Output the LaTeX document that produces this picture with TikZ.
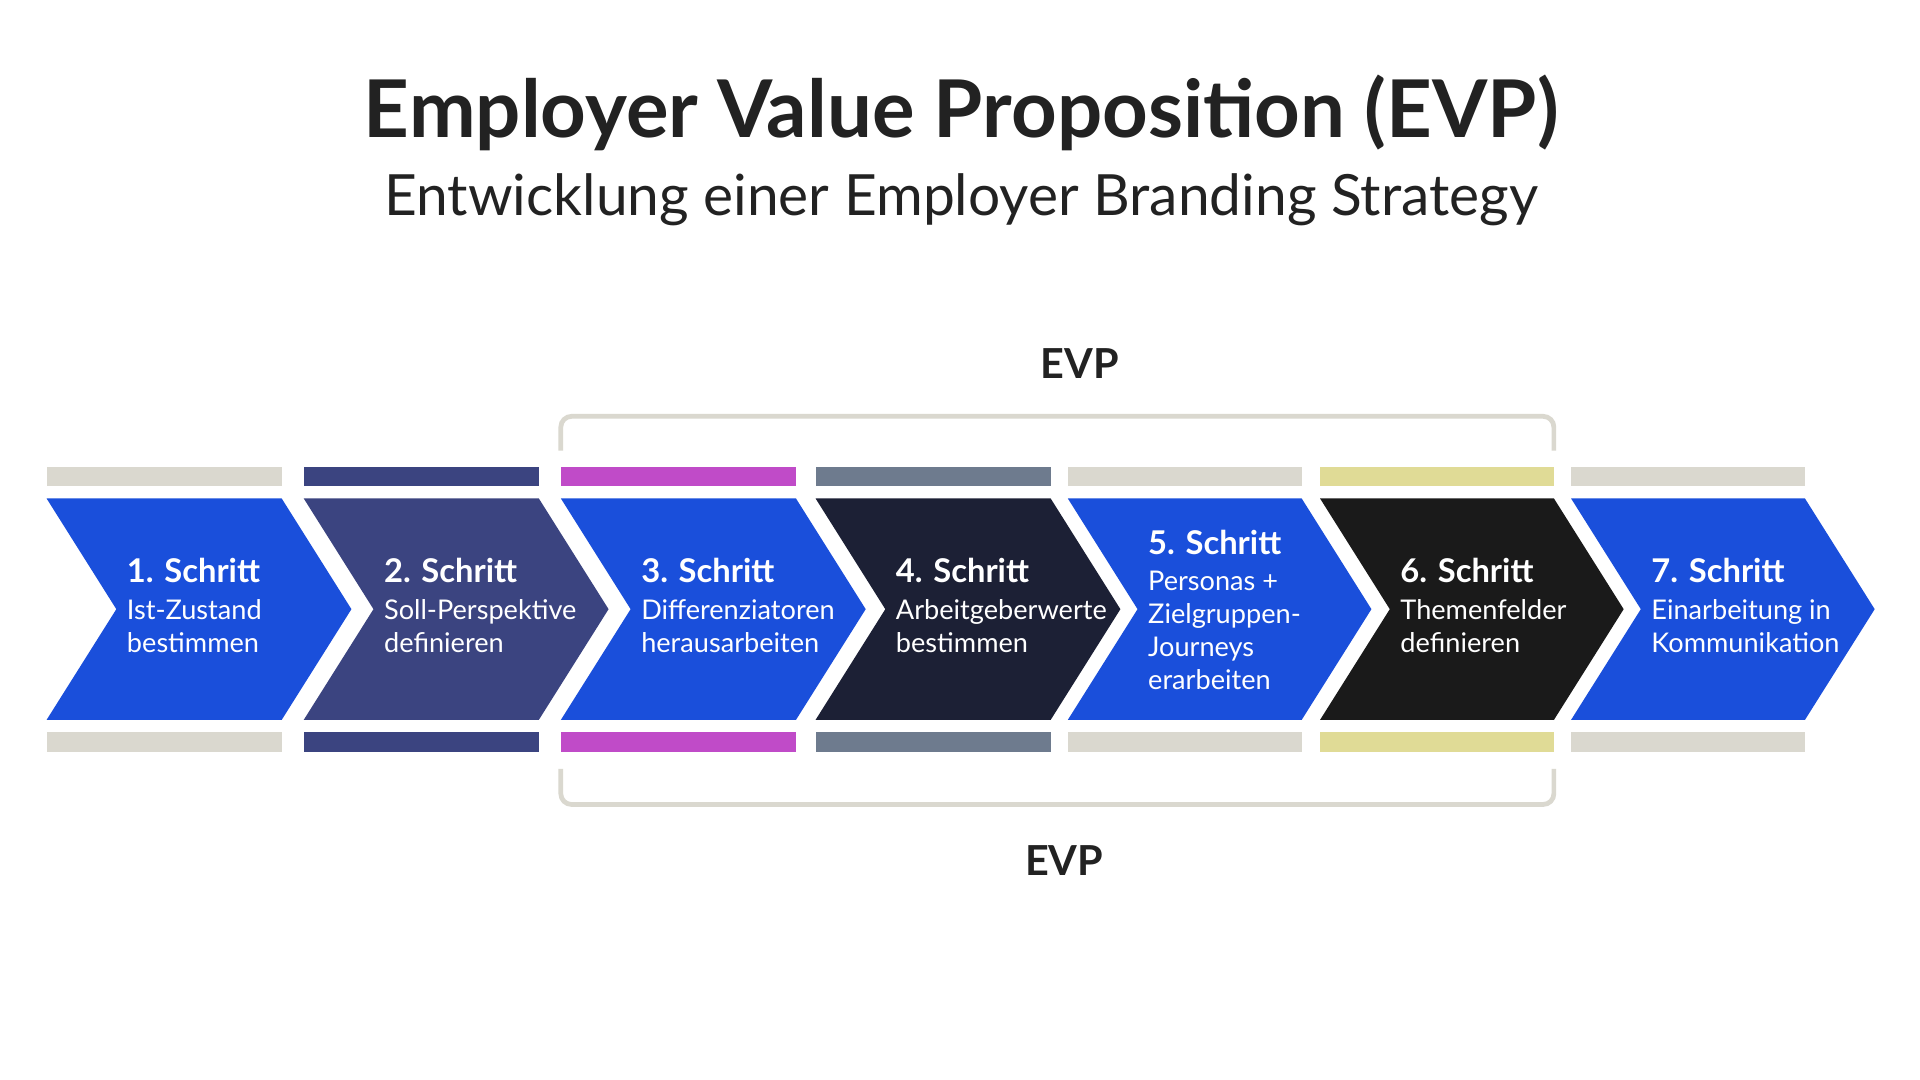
\documentclass[tikz,border=0pt]{standalone}
\usepackage{fontspec}
\setmainfont{Lato}
\definecolor{cblue}{HTML}{1A4FDB}
\definecolor{cnavy}{HTML}{3B4480}
\definecolor{cdark}{HTML}{1C2035}
\definecolor{cblack}{HTML}{1A1A1A}
\definecolor{cgray}{HTML}{DAD8CF}
\definecolor{cmag}{HTML}{C04BC8}
\definecolor{cslate}{HTML}{6E7B8E}
\definecolor{ckhaki}{HTML}{E0DB96}
\definecolor{ctext}{HTML}{222222}
\begin{document}
\begin{tikzpicture}[x=0.01cm,y=-0.01cm,
  steptext/.style={anchor=north west,align=left,text=white,font=\fontsize{6.3}{7.6}\selectfont,inner sep=0},
  evp/.style={font=\fontsize{9.6}{11}\selectfont\bfseries,text=ctext},
  brk/.style={draw=cgray,line width=1.1pt,rounded corners=2.5pt}]
\useasboundingbox (0,0) rectangle (1568,882);
\fill[white] (0,0) rectangle (1568,882);
\node[font=\fontsize{18.5}{22}\selectfont\bfseries,text=ctext] (title) at (785,92) {Employer Value Proposition (EVP)};
\node[font=\fontsize{13.2}{16}\selectfont,text=ctext] (sub) at (785,163) {Entwicklung einer Employer Branding Strategy};
\node[evp] (evpt) at (882,297) {EVP};
\node[evp] (evpb) at (869,703) {EVP};
\draw[brk] (458,368) -- (458,340) -- (1269,340) -- (1269,368);
\draw[brk] (458,628) -- (458,657) -- (1269,657) -- (1269,628);
\foreach \x/\w/\c/\b/\n/\t/\yy in {
  38/192/cblue/cgray/1/{Ist-Zustand\\bestimmen}/467,
  248/192/cnavy/cnavy/2/{Soll-Perspektive\\definieren}/467,
  458/192/cblue/cmag/3/{Differenziatoren\\herausarbeiten}/467,
  666/192/cdark/cslate/4/{Arbeitgeberwerte\\bestimmen}/467,
  872/191/cblue/cgray/5/{Personas +\\Zielgruppen-\\Journeys\\erarbeiten}/444,
  1078/191/cblack/ckhaki/6/{Themenfelder\\definieren}/467,
  1283/191/cblue/cgray/7/{Einarbeitung in\\Kommunikation}/467}{
  \fill[\b] (\x,381) rectangle ++(\w,16);
  \fill[\b] (\x,598) rectangle ++(\w,16);
  \fill[\c] (\x,407) -- ++(\w,0) -- ++(57,90.5) -- ++(-57,90.5) -- ++(-\w,0) -- ++(57,-90.5) -- cycle;
  \node[steptext,font=\fontsize{7.6}{9}\selectfont\bfseries] (h\n) at (\x+65,\yy-12) {\n. Schritt};
  \node[steptext] (b\n) at (\x+65,\yy+22) {\t};
}
\end{tikzpicture}
\end{document}
